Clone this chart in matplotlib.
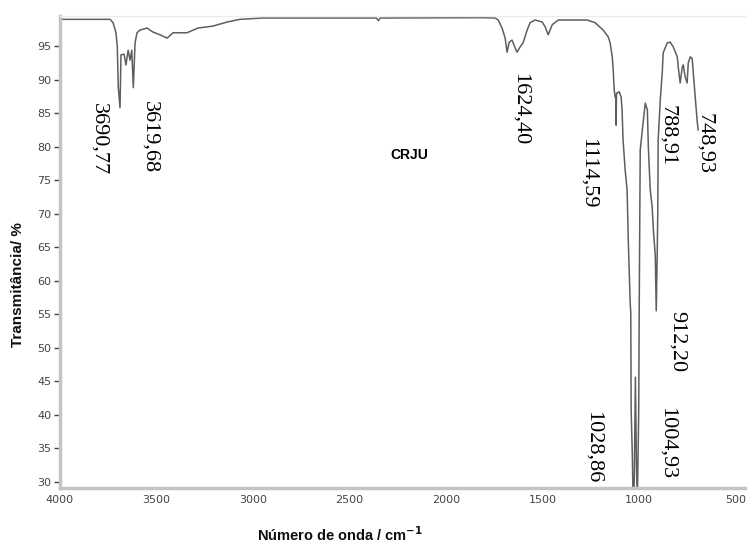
import matplotlib.pyplot as plt

# Data
wavenumber = [4000, 3900, 3760, 3741, 3725, 3710, 3703, 3698, 3689, 3684, 3668, 3658,
              3647, 3637, 3628, 3620, 3611, 3601, 3585, 3549, 3518, 3482, 3445, 3414,
              3342, 3285, 3207, 3134, 3067, 2950, 2360, 2350, 2340, 1823, 1745, 1729,
              1709, 1693, 1683, 1672, 1657, 1641, 1631, 1615, 1600, 1579, 1564, 1538,
              1501, 1486, 1470, 1449, 1418, 1268, 1227, 1185, 1159, 1149, 1138, 1133,
              1128, 1123, 1120, 1118, 1116, 1112, 1102, 1092, 1087, 1082, 1071, 1061,
              1055, 1045, 1042, 1040, 1034, 1029, 1024, 1018, 1013, 1008, 1001, 998,
              993, 982, 967, 956, 951, 941, 931, 925, 915, 910, 905, 902, 900, 889,
              879, 874, 853, 838, 822, 801, 796, 786, 775, 770, 760, 750, 744, 734,
              724, 719, 708, 698, 693]
transmitance = [99.0, 99.0, 99.0, 99.0, 98.5, 97.0, 94.9, 88.9, 85.8, 93.7, 93.8, 92.2,
                94.4, 92.9, 94.4, 88.8, 95.5, 97.0, 97.4, 97.7, 97.1, 96.7, 96.2, 97.0,
                97.0, 97.7, 98.0, 98.6, 99.0, 99.2, 99.2, 98.8, 99.2, 99.25, 99.2, 98.9,
                97.7, 96.2, 94.1, 95.6, 95.9, 94.7, 94.1, 94.9, 95.5, 97.4, 98.5, 98.9,
                98.6, 97.9, 96.7, 98.2, 98.9, 98.9, 98.5, 97.4, 96.4, 95.5, 93.4, 91.4,
                88.5, 87.4, 87.3, 83.2, 88.0, 88.0, 88.2, 87.4, 85.5, 81.0, 76.5, 73.5,
                66.1, 56.7, 55.2, 40.7, 34.0, 26.0, 30.0, 45.6, 33.0, 27.0, 40.0, 57.1,
                79.5, 82.5, 86.5, 85.5, 80.0, 73.5, 71.0, 67.6, 63.8, 55.5, 63.8, 70.5,
                81.0, 87.0, 91.0, 94.0, 95.5, 95.6, 94.9, 93.4, 91.9, 89.5, 91.9, 92.2,
                90.4, 89.5, 92.5, 93.4, 93.2, 91.4, 87.4, 83.9, 82.5]

# Peak labels: text, position in wavenumber, position in transmitance (top of text)
peak_labels = ['3690,77', '3619,68', '1624,40', '1114,59', '1028,86', '1004,93',
               '912,20', '788,91', '748,93']
label_x = [3800, 3535, 1615, 1265, 1240, 855, 800, 850, 660]
label_y = [86.5, 86.8, 91.0, 81.3, 40.5, 41.2, 55.5, 86.2, 85.0]

W, H = 748, 547
fig = plt.figure(figsize=(W / 100, H / 100), dpi=100)
ax = fig.add_axes([60 / W, 1 - 488 / H, 685 / W, 472 / H])

ax.plot(wavenumber, transmitance, color='#5e5e5e', linewidth=1.1)
ax.set_xlim(4000, 450)
ax.set_ylim(29.05, 99.5)

ax.set_xticks([4000, 3500, 3000, 2500, 2000, 1500, 1000, 500])
ax.set_yticks(range(30, 100, 5))
ax.set_yticks(range(30, 100, 1), minor=True)
ax.tick_params(axis='both', labelsize=8, labelcolor='#444444', colors='#444444')
ax.tick_params(axis='y', which='major', length=4, width=1, direction='out', pad=2)
ax.tick_params(axis='y', which='minor', length=1.5, width=1.2, direction='inout')
ax.tick_params(axis='x', which='major', length=2, width=1.5, direction='inout', pad=4)

for side in ['left', 'bottom']:
    ax.spines[side].set_color('#c4c4c4')
    ax.spines[side].set_linewidth(2.5)
ax.spines['top'].set_color('#ececec')
ax.spines['top'].set_linewidth(1)
ax.spines['right'].set_visible(False)

for txt, x, y in zip(peak_labels, label_x, label_y):
    ax.text(x, y, txt, rotation=-90, ha='center', va='top',
            family='Liberation Serif', fontsize=16, color='black')

ax.text(0.51, 0.705, 'CRJU', transform=ax.transAxes, ha='center', va='center',
        fontsize=10, fontweight='bold', family='Liberation Sans')

fig.text(18 / W, 1 - 285 / H, 'Transmitância/ %', rotation=90, ha='center', va='center',
         fontsize=11, fontweight='bold', family='Liberation Sans', color='#101010')
fig.text(340 / W, 1 - 535 / H, 'Número de onda / cm$^{\\mathbf{-1}}$', ha='center', va='center',
         fontsize=10.5, fontweight='bold', family='Liberation Sans', color='#101010')

fig.savefig('out.png', dpi=100)
